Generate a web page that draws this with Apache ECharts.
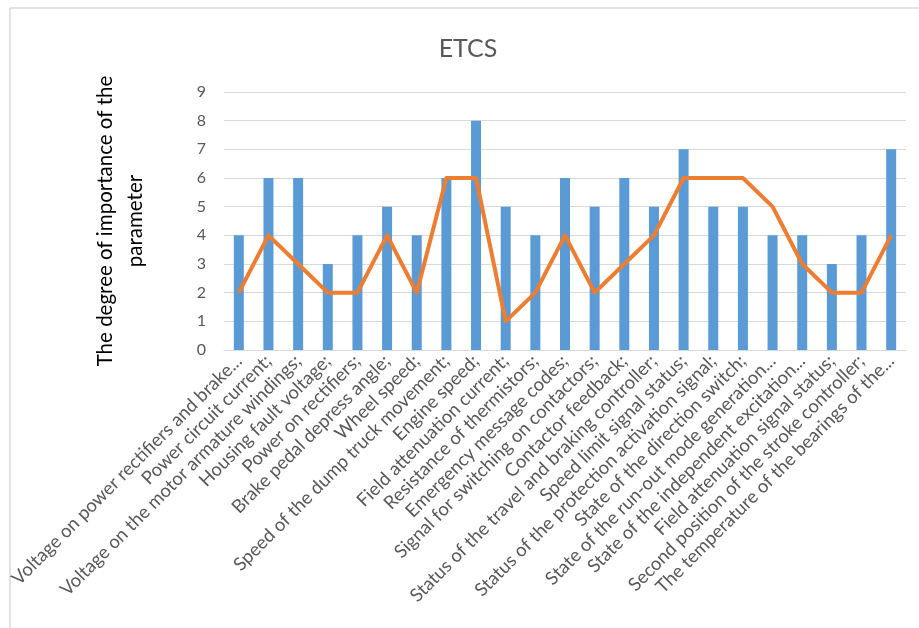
<!DOCTYPE html>
<html>
<head>
<meta charset="utf-8">
<title>ETCS</title>
<script src="https://cdn.jsdelivr.net/npm/echarts@6/dist/echarts.min.js"></script>
<style>
  html, body { margin: 0; padding: 0; background: #fff; }
  #chart { width: 919px; height: 628px; }
</style>
</head>
<body>
<div id="chart"></div>
<script>
// Monitored parameters of the electric traction control system
const categories = [
  'Voltage on power rectifiers and brake...',
  'Power circuit current;',
  'Voltage on the motor armature windings;',
  'Housing fault voltage;',
  'Power on rectifiers;',
  'Brake pedal depress angle;',
  'Wheel speed;',
  'Speed of the dump truck movement;',
  'Engine speed;',
  'Field attenuation current;',
  'Resistance of thermistors;',
  'Emergency message codes;',
  'Signal for switching on contactors;',
  'Contactor feedback;',
  'Status of the travel and braking controller;',
  'Speed limit signal status;',
  'Status of the protection activation signal;',
  'State of the direction switch;',
  'State of the run-out mode generation...',
  'State of the independent excitation...',
  'Field attenuation signal status;',
  'Second position of the stroke controller;',
  'The temperature of the bearings of the...'
];

// Column series
const barValues = [4, 6, 6, 3, 4, 5, 4, 6, 8, 5, 4, 6, 5, 6, 5, 7, 5, 5, 4, 4, 3, 4, 7];

// Line series
const lineValues = [2, 4, 3, 2, 2, 4, 2, 6, 6, 1, 2, 4, 2, 3, 4, 6, 6, 6, 5, 3, 2, 2, 4];

// Value axis ticks
const yTicks = [0, 1, 2, 3, 4, 5, 6, 7, 8, 9];

const FONT = 'Lato';
const TEXT = '#595959';

const chart = echarts.init(document.getElementById('chart'), null, { renderer: 'canvas' });

chart.setOption({
  backgroundColor: '#ffffff',
  animation: false,
  title: {
    text: 'ETCS',
    left: 463,
    top: 31,
    textAlign: 'center',
    textStyle: { fontFamily: FONT, fontSize: 25, fontWeight: 'normal', color: TEXT }
  },
  graphic: [
    // chart frame edges
    { type: 'line', shape: { x1: 10, y1: 8, x2: 919, y2: 8 }, style: { stroke: '#d9d9d9', lineWidth: 1.5 } },
    { type: 'line', shape: { x1: 10, y1: 8, x2: 10, y2: 628 }, style: { stroke: '#d9d9d9', lineWidth: 1.5 } }
  ],
  grid: { left: 224, right: 13, top: 92, bottom: 278, containLabel: false },
  xAxis: {
    type: 'category',
    data: categories,
    axisTick: { show: false },
    axisLine: { show: true, lineStyle: { color: '#d9d9d9', width: 1 } },
    axisLabel: {
      interval: 0,
      rotate: 45,
      margin: 8,
      fontFamily: FONT,
      fontSize: 18.5,
      color: TEXT
    }
  },
  yAxis: {
    type: 'value',
    min: yTicks[0],
    max: yTicks[yTicks.length - 1],
    interval: 1,
    name: 'The degree of importance of the\nparameter',
    nameLocation: 'middle',
    nameRotate: 90,
    nameGap: 74,
    nameTextStyle: { fontFamily: FONT, fontSize: 20.5, color: '#000000', lineHeight: 30 },
    axisLine: { show: false },
    axisTick: { show: false },
    splitLine: { lineStyle: { color: '#d9d9d9', width: 1 } },
    axisLabel: { margin: 18, fontFamily: FONT, fontSize: 16, color: TEXT }
  },
  series: [
    {
      type: 'bar',
      data: barValues,
      barWidth: 10,
      itemStyle: { color: '#5b9bd5' }
    },
    {
      type: 'line',
      data: lineValues,
      symbol: 'none',
      smooth: false,
      z: 3,
      lineStyle: { color: '#ed7d31', width: 4, join: 'round' }
    }
  ]
});
</script>
</body>
</html>
